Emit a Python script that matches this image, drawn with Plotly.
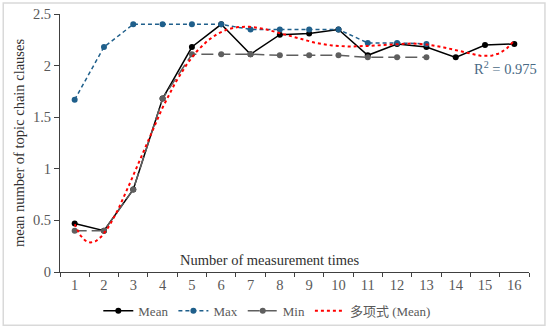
import numpy as np
import plotly.graph_objects as go

times = list(range(1, 17))
tick_labels = [str(t) for t in times]
mean_vals = [0.47, 0.40, 0.80, 1.68, 2.18, 2.40, 2.11, 2.30, 2.31, 2.35, 2.10, 2.21, 2.18, 2.08, 2.20, 2.21]
max_times = list(range(1, 14))
max_vals = [1.67, 2.18, 2.40, 2.40, 2.40, 2.40, 2.35, 2.35, 2.35, 2.35, 2.22, 2.22, 2.21]
min_times = list(range(1, 14))
min_vals = [0.40, 0.40, 0.80, 1.68, 2.11, 2.11, 2.11, 2.10, 2.10, 2.10, 2.08, 2.08, 2.08]
r2_label = "R<sup>2</sup> = 0.975"

coef = np.polyfit(times, mean_vals, 6)
xf = np.linspace(1, 16, 300)
yf = np.polyval(coef, xf)

FONT = "Liberation Serif"
GRAY = "#595959"
FS = 14.5

fig = go.Figure()
fig.add_trace(go.Scatter(x=times, y=mean_vals, name="Mean", mode="lines+markers",
                         line=dict(color="black", width=1.5), marker=dict(size=6, color="black")))
fig.add_trace(go.Scatter(x=max_times, y=max_vals, name="Max", mode="lines+markers",
                         line=dict(color="#1f5f8b", width=1.5, dash="4px,3px"),
                         marker=dict(size=6, color="#1f5f8b")))
fig.add_trace(go.Scatter(x=min_times, y=min_vals, name="Min", mode="lines+markers",
                         line=dict(color="#5f5f5f", width=1.5, dash="12px,5px"),
                         marker=dict(size=6, color="#5f5f5f")))
fig.add_trace(go.Scatter(x=xf, y=yf, name="多项式 (Mean)", mode="lines",
                         line=dict(color="red", width=2, dash="dot")))

fig.update_layout(
    width=550, height=329,
    margin=dict(l=60, r=21, t=14, b=57, autoexpand=False),
    paper_bgcolor="white", plot_bgcolor="white",
    font=dict(family=FONT, size=FS, color=GRAY),
    showlegend=True,
    legend=dict(orientation="h", xref="container", yref="container",
                x=0.486, xanchor="center", y=0.0556, yanchor="middle",
                font=dict(family=FONT + ", Noto Sans CJK SC", size=13, color=GRAY),
                itemwidth=30, tracegroupgap=0, bgcolor="rgba(0,0,0,0)"),
    xaxis=dict(range=[0.5, 16.5], tickvals=times, ticktext=tick_labels, ticks="",
               showline=True, linecolor="#404040", linewidth=1, showgrid=False, zeroline=False,
               minor=dict(tick0=0.5, dtick=1, ticks="outside", ticklen=4, tickcolor="#404040"),
               tickfont=dict(family=FONT, size=FS, color=GRAY)),
    yaxis=dict(range=[0, 2.5], tickvals=[0, 0.5, 1, 1.5, 2, 2.5], ticktext=["0", "0.5", "1", "1.5", "2", "2.5"],
               ticks="outside", ticklen=5, tickcolor="#404040",
               showline=True, linecolor="#404040", linewidth=1, showgrid=False, zeroline=False,
               tickfont=dict(family=FONT, size=FS, color=GRAY),
               title=dict(text="mean number of topic chain clauses", font=dict(family=FONT, size=FS, color="#303030"),
                          standoff=4)),
    annotations=[
        dict(text="Number of measurement times", x=0.448, y=0.047, xref="paper", yref="paper",
             xanchor="center", yanchor="middle",
             showarrow=False, font=dict(family=FONT, size=FS, color="#303030")),
        dict(text=r2_label, x=0.949, y=0.79, xref="paper", yref="paper",
             xanchor="center", yanchor="middle",
             showarrow=False, font=dict(family=FONT, size=FS, color="#4a6a85")),
    ],
    shapes=[dict(type="rect", xref="paper", yref="paper", x0=-0.121, x1=1.034, y0=-0.206, y1=1.043,
                 line=dict(color="#d9d9d9", width=1.5), fillcolor="rgba(0,0,0,0)", layer="below")],
)

fig.write_html("out.html", config={"displayModeBar": False},
               post_script="document.body.style.margin='0';document.body.style.overflow='hidden';")
